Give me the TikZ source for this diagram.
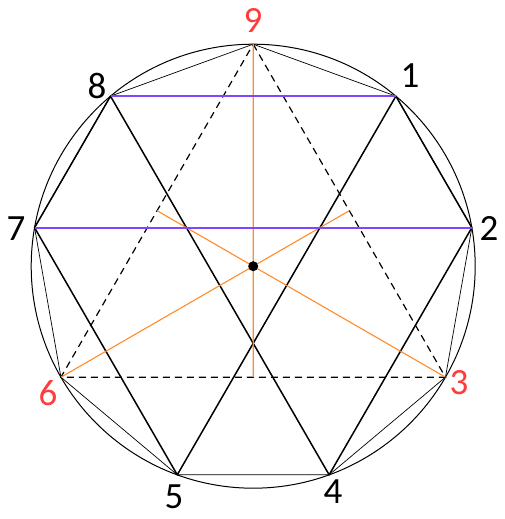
\documentclass[tikz,border=0pt]{standalone}
\usepackage{fontspec}
\setmainfont{Carlito}
\usetikzlibrary{calc}
\definecolor{numred}{RGB}{255,60,60}
\definecolor{chordpurple}{RGB}{128,70,255}
\definecolor{medorange}{RGB}{255,140,40}
\begin{document}
\begin{tikzpicture}[x=1pt,y=-1pt,
  thinedge/.style={draw=black,line width=0.7pt},
  hexline/.style={draw=black,line width=1.5pt},
  dashline/.style={draw=black,line width=1.2pt,dash pattern=on 7pt off 5pt},
  purpleline/.style={draw=chordpurple,line width=2pt},
  medline/.style={draw=medorange,line width=1.1pt},
  numlabel/.style={font=\fontsize{37}{37}\selectfont,inner sep=0pt,text=black},
  rednum/.style={numlabel,text=numred}]
\useasboundingbox (0,0) rectangle (504,519);
\coordinate (C) at (253.2,266.2);
\draw[line width=1pt] (C) circle (222);
\foreach \n/\a in {9/90,1/50,2/10,3/-30,4/-70,5/-110,6/-150,7/170,8/130}
  \coordinate (p\n) at ($(C)+(-\a:222)$);
% polygon edges
\draw[thinedge] (p9) -- (p1) -- (p2) -- (p3) -- (p4) -- (p5) -- (p6) -- (p7) -- (p8) -- cycle;
% hexad
\draw[hexline,line join=round] (p1) -- (p5) -- (p7) -- (p8) -- (p4) -- (p2) -- cycle;
% dashed triangle
\draw[dashline] (p9) -- (p3) -- (p6) -- cycle;
% medians
\coordinate (m93) at ($(p9)!0.5!(p3)$);
\coordinate (m96) at ($(p9)!0.5!(p6)$);
\coordinate (m63) at ($(p6)!0.5!(p3)$);
\draw[medline] (p6) -- (m93);
\draw[medline] (p3) -- (m96);
\draw[medline] (p9) -- (m63);
% purple chords
\draw[purpleline] (p8) -- (p1);
\draw[purpleline] (p7) -- (p2);
\fill (C) circle (5);
% labels
\node[rednum] (l9) at (253,20) {9};
\node[numlabel] (l1) at (410,76) {1};
\node[numlabel] (l2) at (489,228) {2};
\node[rednum] (l3) at (459,383) {3};
\node[numlabel] (l4) at (333,492) {4};
\node[numlabel] (l5) at (174,497) {5};
\node[rednum] (l6) at (48,393) {6};
\node[numlabel] (l7) at (16,229) {7};
\node[numlabel] (l8) at (97,86) {8};
\end{tikzpicture}
\end{document}
